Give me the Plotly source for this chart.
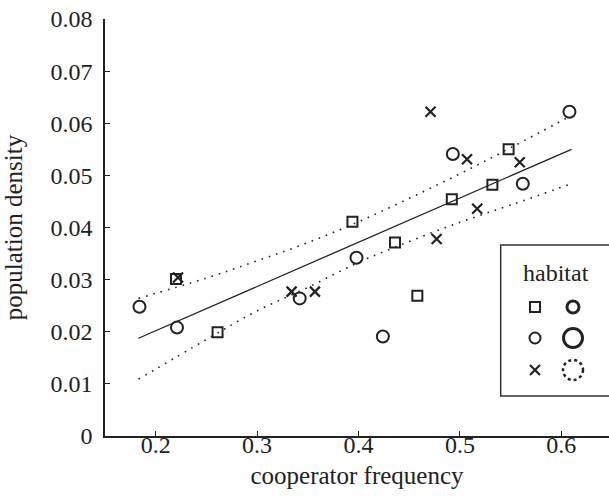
import plotly.graph_objects as go

# ---- data ----
sq_x = [0.220, 0.261, 0.394, 0.436, 0.458, 0.492, 0.532, 0.548]
sq_y = [0.0301, 0.0199, 0.0411, 0.0371, 0.0269, 0.0454, 0.0482, 0.0550]

ci_x = [0.184, 0.221, 0.342, 0.398, 0.424, 0.493, 0.562, 0.608]
ci_y = [0.0248, 0.0208, 0.0264, 0.0342, 0.0191, 0.0541, 0.0484, 0.0622]

cr_x = [0.222, 0.334, 0.357, 0.471, 0.477, 0.507, 0.517, 0.559]
cr_y = [0.0304, 0.0277, 0.0277, 0.0622, 0.0378, 0.0531, 0.0436, 0.0525]

fit_x = [0.183, 0.610]
fit_y = [0.01875, 0.0550]

band_x = [0.183, 0.25, 0.30, 0.35, 0.40, 0.45, 0.50, 0.55, 0.61]
band_hi = [0.0264, 0.0303, 0.0336, 0.0371, 0.0411, 0.0456, 0.0503, 0.0553, 0.0615]
band_lo = [0.0109, 0.0185, 0.0240, 0.0285, 0.0333, 0.0373, 0.0410, 0.0443, 0.0484]

x_ticks = [0.2, 0.3, 0.4, 0.5, 0.6]
y_ticks = [0, 0.01, 0.02, 0.03, 0.04, 0.05, 0.06, 0.07, 0.08]
y_ticktext = ["0", "0.01", "0.02", "0.03", "0.04", "0.05", "0.06", "0.07", "0.08"]

INK = "#222222"
FONT = "'Liberation Serif', 'Times New Roman', 'DejaVu Serif', serif"

fig = go.Figure()

# confidence band (dotted)
for yy in (band_hi, band_lo):
    fig.add_trace(go.Scatter(x=band_x, y=yy, mode="lines",
                             line=dict(color=INK, width=1.6, dash="1.6px,6px"),
                             line_shape="spline", hoverinfo="skip", showlegend=False))
# fit line
fig.add_trace(go.Scatter(x=fit_x, y=fit_y, mode="lines",
                         line=dict(color=INK, width=1.3), showlegend=False))

fig.add_trace(go.Scatter(x=sq_x, y=sq_y, mode="markers", showlegend=False,
                         marker=dict(symbol="square-open", size=10, color=INK,
                                     line=dict(width=2, color=INK))))
fig.add_trace(go.Scatter(x=ci_x, y=ci_y, mode="markers", showlegend=False,
                         marker=dict(symbol="circle-open", size=12, color=INK,
                                     line=dict(width=2, color=INK))))
fig.add_trace(go.Scatter(x=cr_x, y=cr_y, mode="markers", showlegend=False,
                         marker=dict(symbol="x-thin-open", size=10, color=INK,
                                     line=dict(width=2.2, color=INK))))

# ---- custom legend on a pixel-unit overlay axis (page pixel coordinates) ----
fig.add_trace(go.Scatter(x=[535], y=[307], xaxis="x2", yaxis="y2", mode="markers",
                         showlegend=False, hoverinfo="skip",
                         marker=dict(symbol="square-open", size=10, color=INK, line=dict(width=2, color=INK))))
fig.add_trace(go.Scatter(x=[535], y=[338], xaxis="x2", yaxis="y2", mode="markers",
                         showlegend=False, hoverinfo="skip",
                         marker=dict(symbol="circle-open", size=11, color=INK, line=dict(width=2, color=INK))))
fig.add_trace(go.Scatter(x=[535], y=[370], xaxis="x2", yaxis="y2", mode="markers",
                         showlegend=False, hoverinfo="skip",
                         marker=dict(symbol="x-thin-open", size=10, color=INK, line=dict(width=2.2, color=INK))))
fig.add_trace(go.Scatter(x=[573], y=[307], xaxis="x2", yaxis="y2", mode="markers",
                         showlegend=False, hoverinfo="skip",
                         marker=dict(symbol="circle-open", size=12, color=INK, line=dict(width=3, color=INK))))
fig.add_trace(go.Scatter(x=[573], y=[338], xaxis="x2", yaxis="y2", mode="markers",
                         showlegend=False, hoverinfo="skip",
                         marker=dict(symbol="circle-open", size=19, color=INK, line=dict(width=3, color=INK))))

fig.add_shape(type="circle", xref="x2", yref="y2", x0=563, x1=583, y0=360, y1=380,
              line=dict(color=INK, width=2.5, dash="dot"))
fig.add_shape(type="rect", xref="x2", yref="y2", x0=500.7, x1=615, y0=245, y1=396,
              line=dict(color="#333333", width=1.5))
fig.add_annotation(x=556, y=273, xref="x2", yref="y2", text="habitat", showarrow=False,
                   font=dict(family=FONT, size=24, color=INK))

fig.update_layout(
    width=609, height=499,
    margin=dict(l=105, r=0, t=19, b=63),
    paper_bgcolor="white", plot_bgcolor="white",
    font=dict(family=FONT, size=24, color=INK),
    xaxis=dict(range=[0.15, 0.647], tickvals=x_ticks, ticks="inside", ticklen=5,
               tickwidth=1.3, tickcolor=INK, showline=True, linecolor=INK, linewidth=1.5,
               showgrid=False, zeroline=False, automargin=False, ticklabelstandoff=-14,
               ticklabeloverflow="allow",
               tickfont=dict(family=FONT, size=24, color=INK),
               title=dict(text="cooperator frequency", standoff=10,
                          font=dict(family=FONT, size=25, color=INK))),
    yaxis=dict(range=[0, 0.08], tickvals=y_ticks, ticktext=y_ticktext, ticks="inside",
               ticklen=5, tickwidth=1.3, tickcolor=INK, showline=True, linecolor=INK,
               linewidth=1.5, showgrid=False, zeroline=False, ticklabelstandoff=6,
               automargin=False, ticklabeloverflow="allow",
               tickfont=dict(family=FONT, size=24, color=INK),
               title=dict(text="population density", standoff=26,
                          font=dict(family=FONT, size=25, color=INK))),
    xaxis2=dict(range=[105, 609], overlaying="x", visible=False, fixedrange=True),
    yaxis2=dict(range=[436, 19], overlaying="y", visible=False, fixedrange=True),
)

fig.write_html("out.html", config={"displayModeBar": False},
               post_script="document.body.style.margin='0';document.body.style.overflow='hidden';")
